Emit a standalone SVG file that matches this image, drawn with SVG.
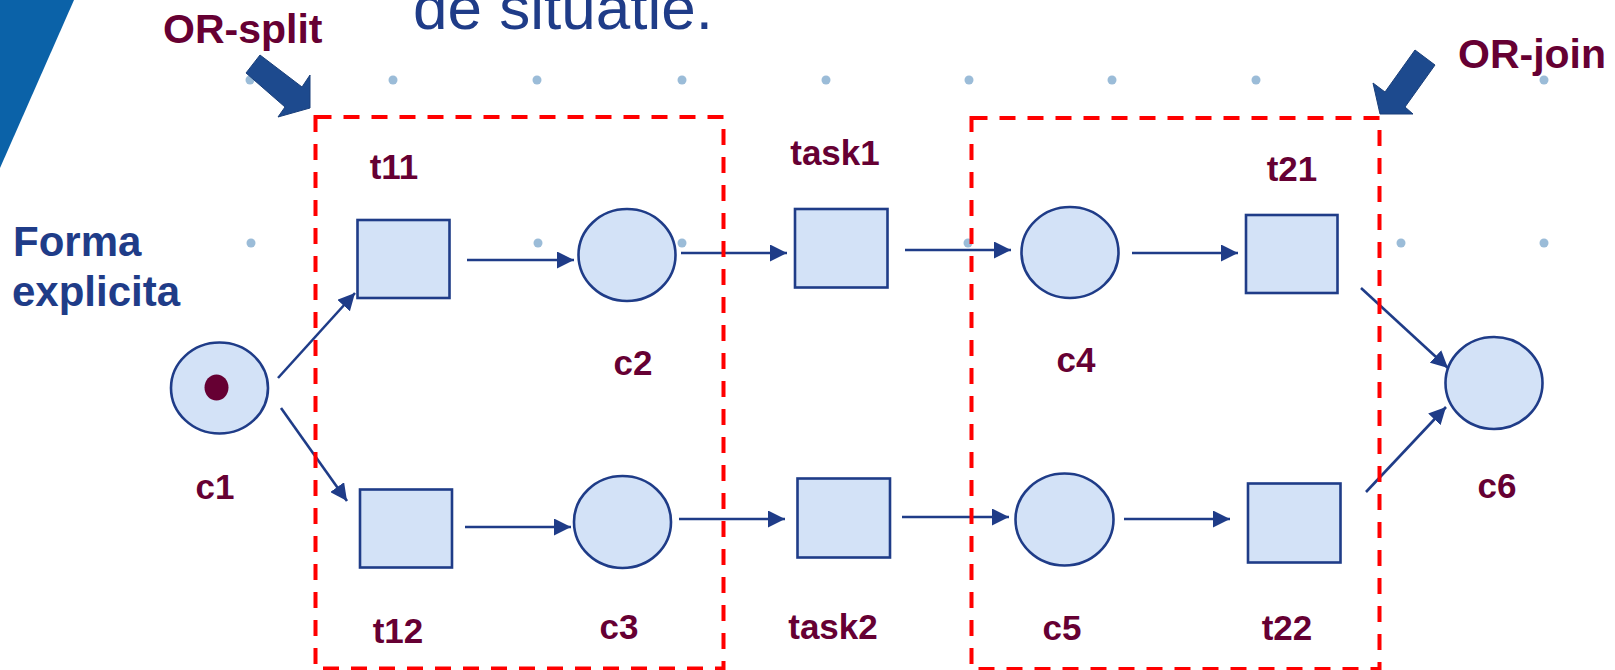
<svg xmlns="http://www.w3.org/2000/svg" width="1615" height="670" viewBox="0 0 1615 670">
<defs>
<style>
.place{fill:#D3E2F7;stroke:#1F3C88;stroke-width:2.6}
.trans{fill:#D3E2F7;stroke:#1F3C88;stroke-width:2.6}
.lbl{font-family:"Liberation Sans",Arial,sans-serif;font-weight:bold;font-size:35px;fill:#660033;text-anchor:middle}
.big{font-family:"Liberation Sans",Arial,sans-serif;font-weight:bold;font-size:41px;fill:#660033}
.blue{font-family:"Liberation Sans",Arial,sans-serif;font-weight:bold;font-size:42px;fill:#1F3C88}
.conn line{stroke:#1F3C88;stroke-width:2.6;marker-end:url(#ah)}
.box{fill:none;stroke:#FF0000;stroke-width:4;stroke-dasharray:16 12}
.dot{fill:#9BBCD8}
.blk{fill:#1D4A8E;stroke:#1A3F7A;stroke-width:1}
</style>
<marker id="ah" markerUnits="userSpaceOnUse" markerWidth="18" markerHeight="17" refX="17" refY="8.5" orient="auto" viewBox="0 0 18 17">
<path d="M0,0 L17,8.5 L0,17 z" fill="#1F3C88"/>
</marker>
</defs>
<rect width="1615" height="670" fill="#FFFFFF"/>
<polygon points="0,0 74,0 0,168" fill="#0B62A8"/>
<text x="413" y="29" font-family="'Liberation Sans',Arial,sans-serif" font-size="62" fill="#1F3C88">de situatie.</text>
<g id="dots">
<circle class="dot" cx="250" cy="80" r="4.5"/><circle class="dot" cx="393" cy="80" r="4.5"/><circle class="dot" cx="537" cy="80" r="4.5"/><circle class="dot" cx="682" cy="80" r="4.5"/><circle class="dot" cx="826" cy="80" r="4.5"/><circle class="dot" cx="969" cy="80" r="4.5"/><circle class="dot" cx="1112" cy="80" r="4.5"/><circle class="dot" cx="1256" cy="80" r="4.5"/><circle class="dot" cx="1544" cy="80" r="4.5"/>
<circle class="dot" cx="251" cy="243" r="4.5"/><circle class="dot" cx="538" cy="243" r="4.5"/><circle class="dot" cx="682" cy="243" r="4.5"/><circle class="dot" cx="968" cy="243" r="4.5"/><circle class="dot" cx="1401" cy="243" r="4.5"/><circle class="dot" cx="1544" cy="243" r="4.5"/>
</g>
<g id="labels-side">
<text class="blue" x="13" y="256">Forma</text>
<text class="blue" x="12" y="306">explicita</text>
</g>
<g id="or-split">
<text class="big" x="163" y="43">OR-split</text>
<polygon class="blk" points="260,55 302,87 310,75 310,108 278,117 285,107 246,73"/>
</g>
<g id="or-join">
<text class="big" x="1458" y="68">OR-join</text>
<polygon class="blk" points="1415,50 1435,65 1405,107 1413,114 1380,114 1373,83 1385,92"/>
</g>
<g id="connectors" class="conn">
<line x1="278" y1="378" x2="355" y2="293"/>
<line x1="281" y1="408" x2="347" y2="501"/>
<line x1="467" y1="260" x2="574" y2="260"/>
<line x1="681" y1="253" x2="787" y2="253"/>
<line x1="905" y1="250" x2="1011" y2="250"/>
<line x1="1132" y1="253" x2="1238" y2="253"/>
<line x1="1361" y1="288" x2="1448" y2="368"/>
<line x1="465" y1="527" x2="571" y2="527"/>
<line x1="679" y1="519" x2="785" y2="519"/>
<line x1="902" y1="517" x2="1009" y2="517"/>
<line x1="1124" y1="519" x2="1230" y2="519"/>
<line x1="1366" y1="492" x2="1446" y2="407"/>
</g>
<g id="c1"><ellipse class="place" cx="219.5" cy="388" rx="48.5" ry="45.5"/><ellipse cx="216.5" cy="387.5" rx="12" ry="13" fill="#660033"/><text class="lbl" x="215" y="499">c1</text></g>
<g id="t11"><rect class="trans" x="357.5" y="220" width="92" height="78"/><text class="lbl" x="394" y="179">t11</text></g>
<g id="c2"><ellipse class="place" cx="627" cy="255" rx="48.5" ry="46"/><text class="lbl" x="633" y="375">c2</text></g>
<g id="task1"><rect class="trans" x="795" y="209" width="92.5" height="78.5"/><text class="lbl" x="835" y="165">task1</text></g>
<g id="c4"><ellipse class="place" cx="1070" cy="252.5" rx="48.5" ry="45.5"/><text class="lbl" x="1076" y="372">c4</text></g>
<g id="t21"><rect class="trans" x="1246" y="215" width="91.5" height="78"/><text class="lbl" x="1292" y="181">t21</text></g>
<g id="t12"><rect class="trans" x="360" y="489.5" width="92" height="78"/><text class="lbl" x="398" y="643">t12</text></g>
<g id="c3"><ellipse class="place" cx="622.5" cy="522" rx="48.5" ry="46"/><text class="lbl" x="619" y="639">c3</text></g>
<g id="task2"><rect class="trans" x="797.5" y="478.5" width="92.5" height="79"/><text class="lbl" x="833" y="639">task2</text></g>
<g id="c5"><ellipse class="place" cx="1064.5" cy="519.5" rx="49" ry="46"/><text class="lbl" x="1062" y="640">c5</text></g>
<g id="t22"><rect class="trans" x="1248" y="483.5" width="92.5" height="79"/><text class="lbl" x="1287" y="640">t22</text></g>
<g id="c6"><ellipse class="place" cx="1494" cy="383" rx="48.5" ry="46"/><text class="lbl" x="1497" y="498">c6</text></g>
<g id="or-split-box"><rect class="box" x="315.5" y="117" width="408" height="551.5"/></g>
<g id="or-join-box"><rect class="box" x="971.5" y="118" width="408" height="551"/></g>
</svg>
